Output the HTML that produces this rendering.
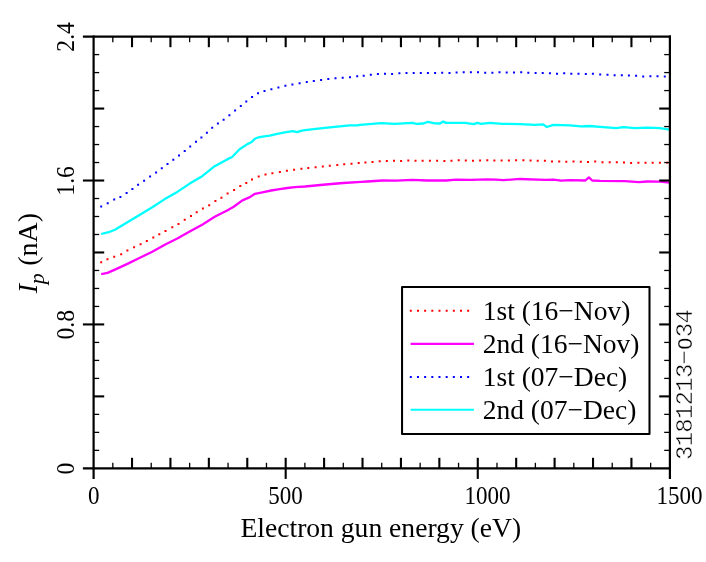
<!DOCTYPE html>
<html><head><meta charset="utf-8"><title>Ip vs electron gun energy</title>
<style>html,body{margin:0;padding:0;background:#fff;}svg{display:block;will-change:transform;}text{font-family:"Liberation Serif",serif;fill:#000;}</style></head><body>
<svg width="706" height="562" viewBox="0 0 706 562">
<rect width="706" height="562" fill="#fff"/>
<g fill="none" stroke-linejoin="round">
<polyline points="101.2,234.0 108.7,232.2 114.9,229.8 127.4,222.3 139.9,214.8 152.3,207.3 164.8,199.1 177.3,191.9 189.7,183.6 202.2,176.2 214.7,166.2 227.1,159.4 232.1,157.0 239.6,149.2 247.4,144.1 251.2,142.3 254.9,138.8 258.6,137.3 262.4,136.7 269.8,135.7 277.3,133.8 284.8,132.3 292.9,131.1 297.2,132.1 301.0,130.8 305.0,130.1 324.8,127.8 349.7,125.3 357.2,125.3 360.0,124.8 381.2,123.1 394.9,123.8 412.3,122.9 416.7,123.9 423.5,123.5 427.9,121.8 434.7,123.3 440.0,123.5 443.1,121.6 446.2,122.9 464.9,122.9 473.6,124.1 477.4,122.9 481.1,123.8 489.8,122.9 502.3,123.8 520.0,124.1 534.9,124.8 543.0,124.4 546.8,127.0 553.6,124.8 569.8,125.4 581.0,126.4 589.7,126.0 600.0,126.9 616.2,128.2 623.7,127.2 634.9,128.2 647.3,127.7 659.8,128.2 669.7,129.6" stroke="#00ffff" stroke-width="2.3" stroke-linecap="butt"/>
<polyline points="101.2,274.1 107.5,272.9 114.9,269.6 127.4,263.9 139.9,257.7 152.3,251.7 164.8,244.7 177.3,238.5 189.7,231.5 202.2,224.8 214.7,216.8 227.1,210.4 233.7,206.7 242.4,200.4 249.9,197.1 254.9,193.8 262.4,192.3 271.1,190.5 279.8,189.2 287.3,188.0 294.7,187.1 305.0,186.5 325.6,184.5 343.3,183.0 361.1,181.8 367.5,181.5 382.4,180.5 396.1,180.6 412.3,179.9 427.2,180.5 440.0,180.4 446.2,180.5 456.2,179.6 471.1,179.9 487.3,179.4 496.0,179.6 503.5,180.1 517.2,179.2 520.0,179.0 544.9,179.9 553.6,179.6 561.1,180.6 569.8,180.1 585.4,180.5 588.9,177.4 592.2,180.5 600.0,180.8 624.9,181.1 638.6,182.1 647.3,181.5 659.8,181.7 669.7,182.6" stroke="#ff00ff" stroke-width="2.3" stroke-linecap="butt"/>
<path d="M101.2,262.2h0M107.5,259.2h0M114.2,256.7h0M121.2,254.2h0M127.4,250.4h0M134.1,247.2h0M140.6,244.2h0M146.8,241.0h0M153.3,237.5h0M159.3,234.2h0M165.5,231.0h0M172.3,227.3h0M178.5,224.0h0M184.7,219.8h0M191.0,216.0h0M196.7,212.3h0M202.9,208.6h0M209.2,205.3h0M215.4,201.1h0M221.4,197.8h0M227.6,193.6h0M234.1,189.9h0M240.3,186.1h0M246.3,182.9h0M252.0,179.6h0M258.7,176.4h0M265.5,174.4h0M272.4,173.2h0M279.9,171.9h0M286.9,170.7h0M294.1,169.7h0M301.4,168.7h0M308.3,167.9h0M315.6,167.2h0M322.8,166.5h0M329.8,165.7h0M337.3,165.0h0M344.2,164.2h0M351.5,163.7h0M358.7,163.0h0M365.4,162.4h0M372.5,162.0h0M379.7,161.3h0M386.8,161.0h0M394.0,160.7h0M401.1,161.0h0M408.3,160.5h0M415.5,160.8h0M422.6,160.8h0M429.9,160.8h0M437.1,160.8h0M444.4,160.9h0M451.5,160.7h0M458.7,160.2h0M465.8,160.4h0M473.0,160.7h0M480.1,160.5h0M487.3,160.3h0M494.4,160.4h0M501.6,160.5h0M508.9,160.4h0M516.1,160.2h0M523.4,160.2h0M530.6,160.4h0M537.7,160.7h0M544.9,160.8h0M552.0,161.4h0M559.2,161.5h0M566.3,161.7h0M573.5,161.5h0M580.8,161.7h0M588.0,161.9h0M595.2,161.5h0M602.5,162.2h0M609.7,162.3h0M616.8,162.2h0M624.0,162.4h0M631.1,162.9h0M638.4,162.7h0M645.5,162.7h0M652.7,162.8h0M659.9,162.8h0M667.2,162.7h0" stroke="#ff0000" stroke-width="2.0" stroke-linecap="square"/>
<path d="M101.2,206.6h0M107.7,203.3h0M114.2,199.6h0M120.4,196.9h0M126.6,192.9h0M132.4,188.9h0M138.1,184.7h0M144.1,180.7h0M150.1,176.4h0M156.1,172.4h0M161.8,168.2h0M167.5,164.0h0M173.3,159.7h0M179.0,155.5h0M184.7,151.0h0M190.2,146.5h0M196.0,141.8h0M201.4,137.5h0M206.9,132.8h0M212.2,127.8h0M217.9,123.6h0M223.6,119.8h0M229.4,115.3h0M235.1,110.6h0M240.8,106.1h0M246.3,101.6h0M252.1,97.1h0M258.0,93.2h0M264.5,90.9h0M271.4,89.2h0M278.4,87.4h0M285.4,85.7h0M292.4,84.4h0M299.6,83.2h0M306.8,81.9h0M313.8,80.9h0M321.1,79.9h0M328.3,78.9h0M335.5,78.2h0M342.7,77.7h0M350.0,77.2h0M357.2,76.2h0M363.7,75.7h0M370.8,74.8h0M377.9,74.1h0M385.0,73.7h0M392.1,73.9h0M399.4,73.3h0M406.5,73.1h0M413.7,73.0h0M420.8,73.0h0M427.9,73.0h0M435.1,73.1h0M442.2,72.8h0M449.5,73.1h0M456.6,72.6h0M463.7,72.2h0M470.9,72.2h0M478.0,72.2h0M485.2,72.7h0M492.4,72.7h0M499.5,72.2h0M506.7,72.5h0M514.0,72.5h0M521.2,72.3h0M528.3,72.7h0M535.6,73.0h0M542.7,73.0h0M549.9,73.2h0M557.0,73.7h0M564.2,73.3h0M571.3,73.8h0M578.5,73.8h0M585.8,73.9h0M592.9,73.8h0M600.2,74.5h0M607.5,74.8h0M614.6,75.3h0M621.8,75.3h0M628.9,75.6h0M636.1,75.8h0M643.2,76.6h0M650.4,76.3h0M657.5,76.2h0M664.8,76.4h0" stroke="#0000ff" stroke-width="2.0" stroke-linecap="square"/>
</g>
<g stroke="#000" stroke-width="2.2" fill="none" stroke-linecap="butt">
<line x1="82.9" y1="36.6" x2="671.0" y2="36.6"/>
<line x1="82.9" y1="468.4" x2="671.0" y2="468.4"/>
<line x1="93.6" y1="35.5" x2="93.6" y2="478.9"/>
<line x1="669.9" y1="35.5" x2="669.9" y2="478.9"/>
</g>
<g stroke="#000" fill="none" stroke-linecap="butt">
<line x1="112.81" y1="462.8" x2="112.81" y2="468.4" stroke-width="1.3"/>
<line x1="112.81" y1="36.6" x2="112.81" y2="42.2" stroke-width="1.3"/>
<line x1="132.02" y1="457.8" x2="132.02" y2="468.4" stroke-width="2.1"/>
<line x1="132.02" y1="36.6" x2="132.02" y2="47.2" stroke-width="2.1"/>
<line x1="151.22" y1="462.8" x2="151.22" y2="468.4" stroke-width="1.3"/>
<line x1="151.22" y1="36.6" x2="151.22" y2="42.2" stroke-width="1.3"/>
<line x1="170.43" y1="457.8" x2="170.43" y2="468.4" stroke-width="2.1"/>
<line x1="170.43" y1="36.6" x2="170.43" y2="47.2" stroke-width="2.1"/>
<line x1="189.64" y1="462.8" x2="189.64" y2="468.4" stroke-width="1.3"/>
<line x1="189.64" y1="36.6" x2="189.64" y2="42.2" stroke-width="1.3"/>
<line x1="208.85" y1="457.8" x2="208.85" y2="468.4" stroke-width="2.1"/>
<line x1="208.85" y1="36.6" x2="208.85" y2="47.2" stroke-width="2.1"/>
<line x1="228.06" y1="462.8" x2="228.06" y2="468.4" stroke-width="1.3"/>
<line x1="228.06" y1="36.6" x2="228.06" y2="42.2" stroke-width="1.3"/>
<line x1="247.27" y1="457.8" x2="247.27" y2="468.4" stroke-width="2.1"/>
<line x1="247.27" y1="36.6" x2="247.27" y2="47.2" stroke-width="2.1"/>
<line x1="266.48" y1="462.8" x2="266.48" y2="468.4" stroke-width="1.3"/>
<line x1="266.48" y1="36.6" x2="266.48" y2="42.2" stroke-width="1.3"/>
<line x1="285.68" y1="457.8" x2="285.68" y2="478.9" stroke-width="2.1"/>
<line x1="285.68" y1="36.6" x2="285.68" y2="47.2" stroke-width="2.1"/>
<line x1="304.89" y1="462.8" x2="304.89" y2="468.4" stroke-width="1.3"/>
<line x1="304.89" y1="36.6" x2="304.89" y2="42.2" stroke-width="1.3"/>
<line x1="324.10" y1="457.8" x2="324.10" y2="468.4" stroke-width="2.1"/>
<line x1="324.10" y1="36.6" x2="324.10" y2="47.2" stroke-width="2.1"/>
<line x1="343.31" y1="462.8" x2="343.31" y2="468.4" stroke-width="1.3"/>
<line x1="343.31" y1="36.6" x2="343.31" y2="42.2" stroke-width="1.3"/>
<line x1="362.52" y1="457.8" x2="362.52" y2="468.4" stroke-width="2.1"/>
<line x1="362.52" y1="36.6" x2="362.52" y2="47.2" stroke-width="2.1"/>
<line x1="381.73" y1="462.8" x2="381.73" y2="468.4" stroke-width="1.3"/>
<line x1="381.73" y1="36.6" x2="381.73" y2="42.2" stroke-width="1.3"/>
<line x1="400.93" y1="457.8" x2="400.93" y2="468.4" stroke-width="2.1"/>
<line x1="400.93" y1="36.6" x2="400.93" y2="47.2" stroke-width="2.1"/>
<line x1="420.14" y1="462.8" x2="420.14" y2="468.4" stroke-width="1.3"/>
<line x1="420.14" y1="36.6" x2="420.14" y2="42.2" stroke-width="1.3"/>
<line x1="439.35" y1="457.8" x2="439.35" y2="468.4" stroke-width="2.1"/>
<line x1="439.35" y1="36.6" x2="439.35" y2="47.2" stroke-width="2.1"/>
<line x1="458.56" y1="462.8" x2="458.56" y2="468.4" stroke-width="1.3"/>
<line x1="458.56" y1="36.6" x2="458.56" y2="42.2" stroke-width="1.3"/>
<line x1="477.77" y1="457.8" x2="477.77" y2="478.9" stroke-width="2.1"/>
<line x1="477.77" y1="36.6" x2="477.77" y2="47.2" stroke-width="2.1"/>
<line x1="496.98" y1="462.8" x2="496.98" y2="468.4" stroke-width="1.3"/>
<line x1="496.98" y1="36.6" x2="496.98" y2="42.2" stroke-width="1.3"/>
<line x1="516.18" y1="457.8" x2="516.18" y2="468.4" stroke-width="2.1"/>
<line x1="516.18" y1="36.6" x2="516.18" y2="47.2" stroke-width="2.1"/>
<line x1="535.39" y1="462.8" x2="535.39" y2="468.4" stroke-width="1.3"/>
<line x1="535.39" y1="36.6" x2="535.39" y2="42.2" stroke-width="1.3"/>
<line x1="554.60" y1="457.8" x2="554.60" y2="468.4" stroke-width="2.1"/>
<line x1="554.60" y1="36.6" x2="554.60" y2="47.2" stroke-width="2.1"/>
<line x1="573.81" y1="462.8" x2="573.81" y2="468.4" stroke-width="1.3"/>
<line x1="573.81" y1="36.6" x2="573.81" y2="42.2" stroke-width="1.3"/>
<line x1="593.02" y1="457.8" x2="593.02" y2="468.4" stroke-width="2.1"/>
<line x1="593.02" y1="36.6" x2="593.02" y2="47.2" stroke-width="2.1"/>
<line x1="612.23" y1="462.8" x2="612.23" y2="468.4" stroke-width="1.3"/>
<line x1="612.23" y1="36.6" x2="612.23" y2="42.2" stroke-width="1.3"/>
<line x1="631.43" y1="457.8" x2="631.43" y2="468.4" stroke-width="2.1"/>
<line x1="631.43" y1="36.6" x2="631.43" y2="47.2" stroke-width="2.1"/>
<line x1="650.64" y1="462.8" x2="650.64" y2="468.4" stroke-width="1.3"/>
<line x1="650.64" y1="36.6" x2="650.64" y2="42.2" stroke-width="1.3"/>
<line x1="93.6" y1="450.36" x2="99.2" y2="450.36" stroke-width="1.3"/>
<line x1="664.2" y1="450.36" x2="669.9" y2="450.36" stroke-width="1.3"/>
<line x1="93.6" y1="432.37" x2="99.2" y2="432.37" stroke-width="1.3"/>
<line x1="664.2" y1="432.37" x2="669.9" y2="432.37" stroke-width="1.3"/>
<line x1="93.6" y1="414.38" x2="99.2" y2="414.38" stroke-width="1.3"/>
<line x1="664.2" y1="414.38" x2="669.9" y2="414.38" stroke-width="1.3"/>
<line x1="93.6" y1="396.39" x2="104.2" y2="396.39" stroke-width="2.1"/>
<line x1="659.2" y1="396.39" x2="669.9" y2="396.39" stroke-width="2.1"/>
<line x1="93.6" y1="378.40" x2="99.2" y2="378.40" stroke-width="1.3"/>
<line x1="664.2" y1="378.40" x2="669.9" y2="378.40" stroke-width="1.3"/>
<line x1="93.6" y1="360.41" x2="99.2" y2="360.41" stroke-width="1.3"/>
<line x1="664.2" y1="360.41" x2="669.9" y2="360.41" stroke-width="1.3"/>
<line x1="93.6" y1="342.42" x2="99.2" y2="342.42" stroke-width="1.3"/>
<line x1="664.2" y1="342.42" x2="669.9" y2="342.42" stroke-width="1.3"/>
<line x1="82.9" y1="324.43" x2="104.2" y2="324.43" stroke-width="2.1"/>
<line x1="659.2" y1="324.43" x2="669.9" y2="324.43" stroke-width="2.1"/>
<line x1="93.6" y1="306.44" x2="99.2" y2="306.44" stroke-width="1.3"/>
<line x1="664.2" y1="306.44" x2="669.9" y2="306.44" stroke-width="1.3"/>
<line x1="93.6" y1="288.45" x2="99.2" y2="288.45" stroke-width="1.3"/>
<line x1="664.2" y1="288.45" x2="669.9" y2="288.45" stroke-width="1.3"/>
<line x1="93.6" y1="270.46" x2="99.2" y2="270.46" stroke-width="1.3"/>
<line x1="664.2" y1="270.46" x2="669.9" y2="270.46" stroke-width="1.3"/>
<line x1="93.6" y1="252.47" x2="104.2" y2="252.47" stroke-width="2.1"/>
<line x1="659.2" y1="252.47" x2="669.9" y2="252.47" stroke-width="2.1"/>
<line x1="93.6" y1="234.49" x2="99.2" y2="234.49" stroke-width="1.3"/>
<line x1="664.2" y1="234.49" x2="669.9" y2="234.49" stroke-width="1.3"/>
<line x1="93.6" y1="216.50" x2="99.2" y2="216.50" stroke-width="1.3"/>
<line x1="664.2" y1="216.50" x2="669.9" y2="216.50" stroke-width="1.3"/>
<line x1="93.6" y1="198.51" x2="99.2" y2="198.51" stroke-width="1.3"/>
<line x1="664.2" y1="198.51" x2="669.9" y2="198.51" stroke-width="1.3"/>
<line x1="82.9" y1="180.52" x2="104.2" y2="180.52" stroke-width="2.1"/>
<line x1="659.2" y1="180.52" x2="669.9" y2="180.52" stroke-width="2.1"/>
<line x1="93.6" y1="162.53" x2="99.2" y2="162.53" stroke-width="1.3"/>
<line x1="664.2" y1="162.53" x2="669.9" y2="162.53" stroke-width="1.3"/>
<line x1="93.6" y1="144.54" x2="99.2" y2="144.54" stroke-width="1.3"/>
<line x1="664.2" y1="144.54" x2="669.9" y2="144.54" stroke-width="1.3"/>
<line x1="93.6" y1="126.55" x2="99.2" y2="126.55" stroke-width="1.3"/>
<line x1="664.2" y1="126.55" x2="669.9" y2="126.55" stroke-width="1.3"/>
<line x1="93.6" y1="108.56" x2="104.2" y2="108.56" stroke-width="2.1"/>
<line x1="659.2" y1="108.56" x2="669.9" y2="108.56" stroke-width="2.1"/>
<line x1="93.6" y1="90.57" x2="99.2" y2="90.57" stroke-width="1.3"/>
<line x1="664.2" y1="90.57" x2="669.9" y2="90.57" stroke-width="1.3"/>
<line x1="93.6" y1="72.58" x2="99.2" y2="72.58" stroke-width="1.3"/>
<line x1="664.2" y1="72.58" x2="669.9" y2="72.58" stroke-width="1.3"/>
<line x1="93.6" y1="54.59" x2="99.2" y2="54.59" stroke-width="1.3"/>
<line x1="664.2" y1="54.59" x2="669.9" y2="54.59" stroke-width="1.3"/>
</g>
<g font-size="24.9px" text-anchor="middle">
<text transform="translate(93.8,503.5) scale(0.925,1)">0</text>
<text transform="translate(285.6,503.5) scale(0.925,1)">500</text>
<text transform="translate(487.4,503.5) scale(0.925,1)">1000</text>
<text transform="translate(679.4,503.5) scale(0.925,1)">1500</text>
</g>
<g font-size="24.9px" text-anchor="middle">
<text transform="translate(74.3,468.7) rotate(-90) scale(0.948,1)">0</text>
<text transform="translate(74.3,324.8) rotate(-90) scale(0.948,1)">0.8</text>
<text transform="translate(74.3,180.9) rotate(-90) scale(0.948,1)">1.6</text>
<text transform="translate(74.3,36.9) rotate(-90) scale(0.948,1)">2.4</text>
</g>
<text x="380.8" y="537.4" font-size="27.6px" text-anchor="middle">Electron gun energy (eV)</text>
<text transform="translate(36.9,293.2) rotate(-90)" font-size="28px" text-anchor="start"><tspan font-style="italic">I</tspan><tspan font-style="italic" font-size="22px" dy="7.2" dx="-0.5">p</tspan><tspan dy="-7.2" dx="0.5"> (nA)</tspan></text>
<rect x="402.05" y="286.9" width="247.45" height="147.1" fill="#fff" stroke="#000" stroke-width="2.05" stroke-linejoin="round"/>
<g fill="none" stroke-width="2.1">
<line x1="410.8" y1="310.8" x2="470" y2="310.8" stroke="#ff0000" stroke-linecap="square" stroke-dasharray="0 7.17" stroke-width="2"/>
<line x1="410.6" y1="343.9" x2="473.9" y2="343.9" stroke="#ff00ff"/>
<line x1="410.8" y1="376.9" x2="470" y2="376.9" stroke="#0000ff" stroke-linecap="square" stroke-dasharray="0 7.17" stroke-width="2"/>
<line x1="410.6" y1="409.8" x2="473.9" y2="409.8" stroke="#00ffff"/>
</g>
<g font-size="27.5px">
<text x="482.7" y="319.9">1st (16−Nov)</text>
<text x="482.7" y="353.0">2nd (16−Nov)</text>
<text x="482.7" y="386.1">1st (07−Dec)</text>
<text x="482.7" y="419.1">2nd (07−Dec)</text>
</g>
<text transform="translate(692.1,452.8) rotate(-90)" style="font-family:'Liberation Mono',monospace" font-size="24px" text-anchor="middle" stroke="#fff" stroke-width="0.5"><tspan x="0.00">3</tspan><tspan x="13.65">1</tspan><tspan x="27.30">8</tspan><tspan x="40.95">1</tspan><tspan x="54.60">2</tspan><tspan x="68.25">1</tspan><tspan x="81.90">3</tspan><tspan x="95.55">−</tspan><tspan x="109.20" style="font-family:'Liberation Sans',sans-serif" font-size="21px" stroke-width="0.15">0</tspan><tspan x="122.85">3</tspan><tspan x="136.50">4</tspan></text>
</svg></body></html>
